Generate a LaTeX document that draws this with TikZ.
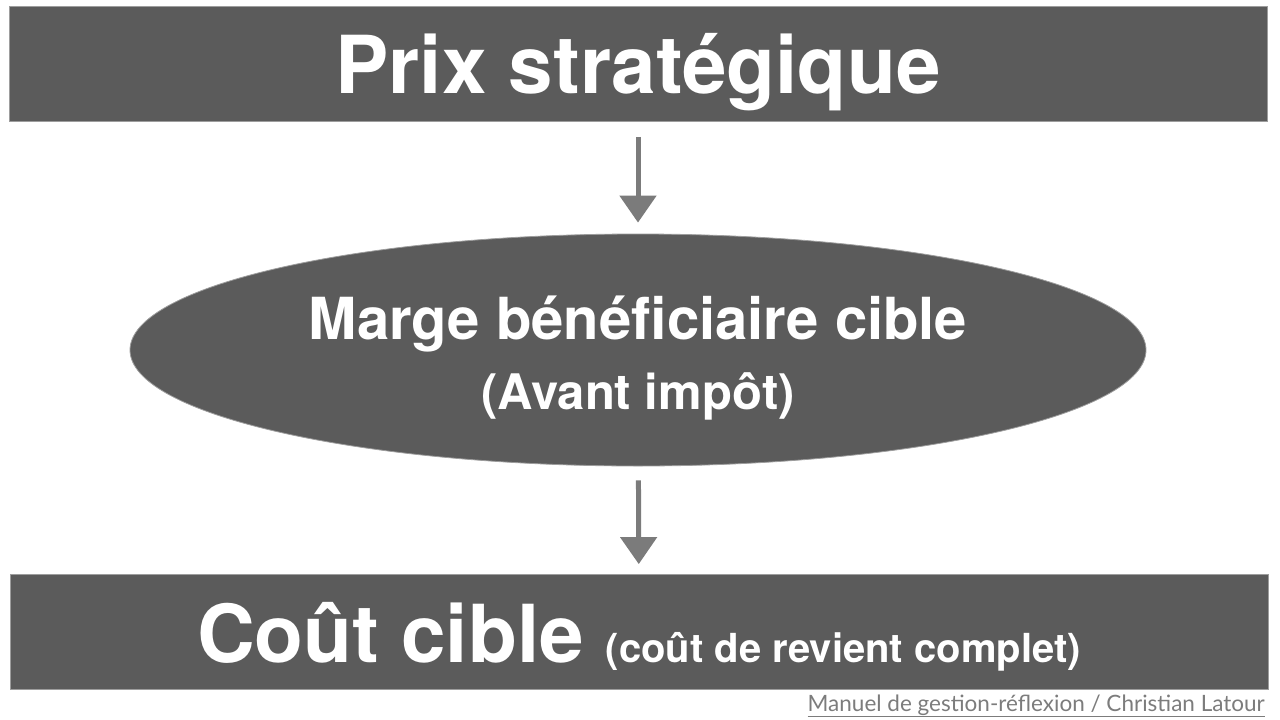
\documentclass[tikz,border=0pt]{standalone}
\usepackage{fontspec}
\setmainfont{TeX Gyre Heros}
\newfontfamily\footfont{Lato}
\usetikzlibrary{shapes.geometric, arrows.meta}

\definecolor{boxgray}{HTML}{5B5B5B}
\definecolor{arrowgray}{HTML}{7B7B7B}
\definecolor{footgray}{HTML}{7C7C7C}

\tikzset{
	bar/.style={rectangle, fill=boxgray, draw=boxgray!60, line width=0.8pt, minimum width=1258pt, minimum height=115pt, inner sep=0pt, text=white, font=\bfseries},
	oval/.style={ellipse, fill=boxgray, draw=boxgray!60, line width=0.8pt, minimum width=1016pt, minimum height=232pt, inner sep=0pt, text=white, font=\bfseries},
	flow/.style={draw=arrowgray, line width=5pt, -{Triangle[width=36pt,length=27pt]}}
}

\begin{document}
\begin{tikzpicture}[x=1pt, y=-1pt]
	\useasboundingbox (0,0) rectangle (1280,720);
	
	\node[bar] (prix) at (638,64) {\raisebox{-8pt}[\height][\depth]{\fontsize{80}{90}\selectfont Prix stratégique}};
	\node[oval] (marge) at (638,350) {\raisebox{-8pt}[\height][\depth]{\begin{tabular}{@{}c@{}}
		\fontsize{58}{66}\selectfont Marge bénéficiaire cible\\[29pt]
		\fontsize{49}{56}\selectfont (Avant impôt)
	\end{tabular}}};
	\node[bar] (cout) at (639,632) {\raisebox{-5pt}[\height][\depth]{\fontsize{80}{90}\selectfont Coût cible \fontsize{40}{46}\selectfont (coût de revient complet)}};
	
	\draw[flow, shorten <=15pt, shorten >=11pt] (prix) -- (marge);
	\draw[flow, shorten <=14pt, shorten >=10pt] (marge) -- (cout);
	
	\node[anchor=base east, inner sep=0pt, text=footgray, font=\footfont\fontsize{22.5}{26}\selectfont] (source) at (1265,711) {\underline{Manuel de gestion-réflexion / Christian Latour}};
	
\end{tikzpicture}
\end{document}
